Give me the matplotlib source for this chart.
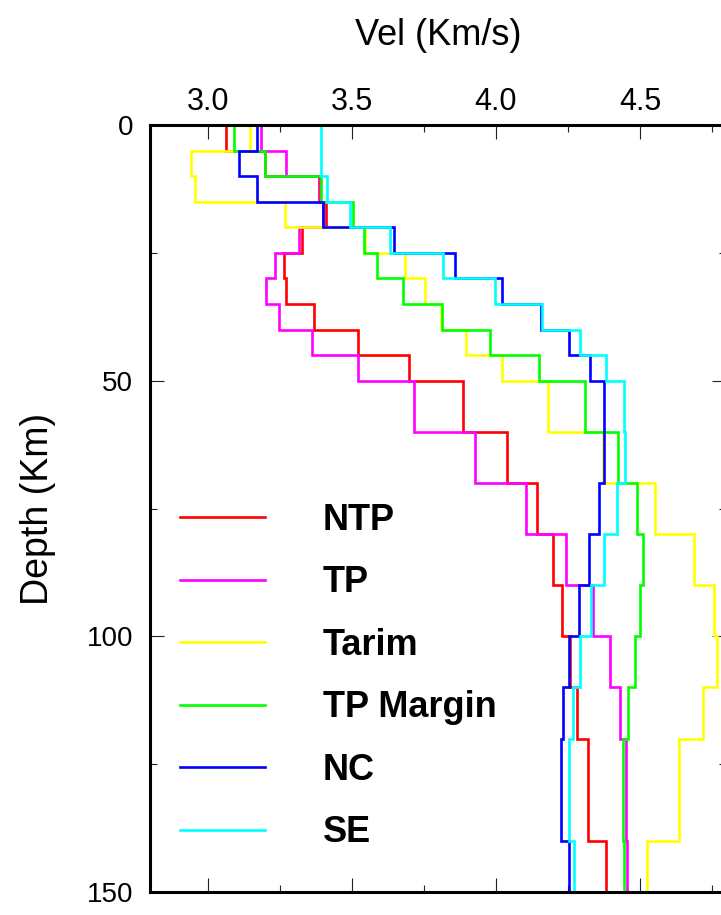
import numpy as np
import matplotlib
matplotlib.use("Agg")
import matplotlib.pyplot as plt
from matplotlib import ticker as tk

plt.rcParams['font.family'] = ['Liberation Sans', 'DejaVu Sans']

# layer boundaries (km)
layer_top = [0, 5, 10, 15, 20, 25, 30, 35, 40, 45, 50, 60, 70, 80, 90, 100, 110, 120, 140]
layer_bot = [5, 10, 15, 20, 25, 30, 35, 40, 45, 50, 60, 70, 80, 90, 100, 110, 120, 140, 150]

# shear velocity per layer (Km/s)
vel_ntp = [3.065, 3.198, 3.387, 3.410, 3.329, 3.265, 3.273, 3.369, 3.520, 3.700,
           3.887, 4.040, 4.142, 4.200, 4.231, 4.257, 4.283, 4.321, 4.382]
vel_tp = [3.186, 3.272, 3.390, 3.400, 3.318, 3.235, 3.204, 3.248, 3.362, 3.522,
          3.715, 3.926, 4.105, 4.243, 4.338, 4.396, 4.431, 4.451, 4.454]
vel_tarim = [3.146, 2.943, 2.956, 3.269, 3.545, 3.685, 3.755, 3.811, 3.898, 4.022,
             4.182, 4.371, 4.553, 4.688, 4.758, 4.768, 4.720, 4.635, 4.525]
vel_margin = [3.092, 3.198, 3.395, 3.505, 3.544, 3.589, 3.678, 3.812, 3.979, 4.149,
              4.310, 4.425, 4.491, 4.509, 4.501, 4.483, 4.457, 4.442, 4.446]
vel_nc = [3.172, 3.109, 3.172, 3.401, 3.647, 3.858, 4.023, 4.155, 4.255, 4.327,
          4.375, 4.377, 4.358, 4.324, 4.287, 4.253, 4.232, 4.227, 4.255]
vel_se = [3.395, 3.395, 3.415, 3.493, 3.634, 3.816, 3.997, 4.160, 4.292, 4.383,
          4.444, 4.448, 4.420, 4.377, 4.330, 4.292, 4.266, 4.255, 4.271]

names = ["NTP", "TP", "Tarim", "TP Margin", "NC", "SE"]
colors = ["#ff0000", "#ff00ff", "#ffff00", "#00ff00", "#0000ff", "#00ffff"]
series = [vel_ntp, vel_tp, vel_tarim, vel_margin, vel_nc, vel_se]


def profile(vel):
    # staircase: each layer is a vertical segment from top to bottom
    d = np.column_stack([layer_top, layer_bot]).ravel()
    v = np.repeat(vel, 2)
    return v, d


fig = plt.figure(figsize=(7.21, 9.15), dpi=100)
ax = fig.add_axes([150 / 721, 23 / 915, 576.4 / 721, 767 / 915])

for vel, name, c in zip(series, names, colors):
    v, d = profile(vel)
    ax.plot(v, d, color=c, lw=1.9, label=name, solid_joinstyle='miter')

ax.set_xlim(2.8, 4.8)
ax.set_ylim(150, 0)

ax.xaxis.set_major_locator(tk.MultipleLocator(0.5))
ax.xaxis.set_minor_locator(tk.MultipleLocator(0.25))
ax.xaxis.set_major_formatter(tk.FormatStrFormatter('%.1f'))
ax.yaxis.set_major_locator(tk.MultipleLocator(50))
ax.yaxis.set_minor_locator(tk.MultipleLocator(25))

ax.tick_params(which='both', direction='in', top=True, bottom=True, left=True, right=True,
               labeltop=True, labelbottom=False, width=0.8, color='#222222')
ax.tick_params(which='major', length=10)
ax.tick_params(which='minor', length=5)
ax.tick_params(axis='x', labelsize=22, pad=6)
ax.tick_params(axis='y', labelsize=20, pad=12)

for s in ax.spines.values():
    s.set_linewidth(2.2)

ax.xaxis.set_label_position('top')
ax.set_xlabel("Vel (Km/s)", fontsize=26, labelpad=30)
ax.set_ylabel("Depth (Km)", fontsize=27, labelpad=22)

ax.legend(loc='upper left', bbox_to_anchor=(30 / 576.4, 1 - (503 - 125) / 767),
          frameon=False, borderpad=0, borderaxespad=0,
          handlelength=2.35, handletextpad=1.6, labelspacing=0.76,
          prop={'size': 26, 'weight': 'bold'})

fig.savefig("out.png", dpi=100)
